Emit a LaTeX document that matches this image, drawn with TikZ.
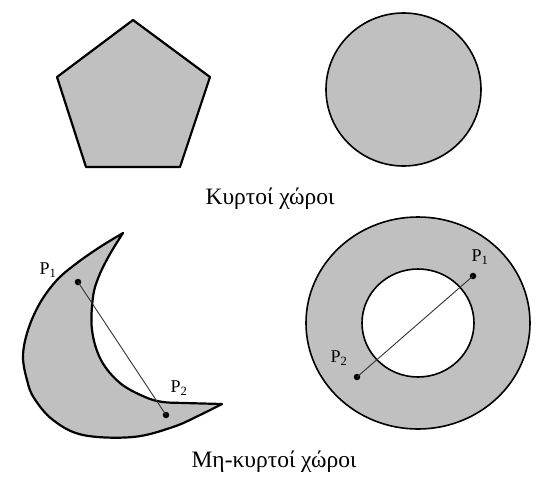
\documentclass[tikz,border=0pt]{standalone}
\usepackage{fontspec}
\setmainfont{Liberation Serif}
\definecolor{shade}{RGB}{192,192,192}
\begin{document}
\begin{tikzpicture}[x=1pt,y=-1pt,
  region/.style={fill=shade,draw=black,line width=2.2pt,line join=round},
  disc/.style={fill=shade,draw=black,line width=1.6pt},
  pdot/.style={circle,fill=black,inner sep=0pt,minimum size=6.5pt},
  chord/.style={draw=black!80,line width=0.9pt},
  plabel/.style={inner sep=0pt,font=\fontsize{18}{18}\selectfont},
  caption/.style={inner sep=0pt,font=\fontsize{23.5}{23.5}\selectfont}]
\useasboundingbox (0,0) rectangle (536,477);
% convex: pentagon
\draw[region] (133,20) -- (210,77) -- (180,167) -- (86,167) -- (57,77) -- cycle;
% convex: disc
\draw[disc] (403.5,89.5) ellipse [x radius=77.5, y radius=76.5];
\node[caption,anchor=base] (cap1) at (270,204) {Κυρτοί χώροι};
% non-convex: crescent
\draw[region] plot[smooth,tension=0.6] coordinates {(123,233) (100,247) (77,263) (57,280) (40,303) (28,330) (23,356) (27,380) (34,398) (53,420) (83,435) (133,437) (173,427) (200,415) (222,404)}
  -- plot[smooth,tension=0.6] coordinates {(222,404) (185,403) (163,402) (145,397) (120,383) (101,360) (92,330) (93,297) (99,276) (110,254) (123,233)} -- cycle;
\node[pdot] (a1) at (78,282) {};
\node[pdot] (a2) at (166,415) {};
\draw[chord] (a1.center) -- (a2.center);
\node[plabel] (la1) at (48,270) {P\textsubscript{1}};
\node[plabel] (la2) at (179,388) {P\textsubscript{2}};
% non-convex: annulus
\path[fill=shade,even odd rule] (418,323) ellipse [x radius=112, y radius=106] (418,323) ellipse [x radius=56, y radius=54];
\draw[line width=1.6pt] (418,323) ellipse [x radius=112, y radius=106];
\draw[line width=1.6pt] (418,323) ellipse [x radius=56, y radius=54];
\node[pdot] (b1) at (473,276) {};
\node[pdot] (b2) at (357,377) {};
\draw[chord] (b1.center) -- (b2.center);
\node[plabel] (lb1) at (480,257) {P\textsubscript{1}};
\node[plabel] (lb2) at (339,358) {P\textsubscript{2}};
\node[caption,anchor=base] (cap2) at (274,467) {Μη-κυρτοί χώροι};
\end{tikzpicture}
\end{document}
